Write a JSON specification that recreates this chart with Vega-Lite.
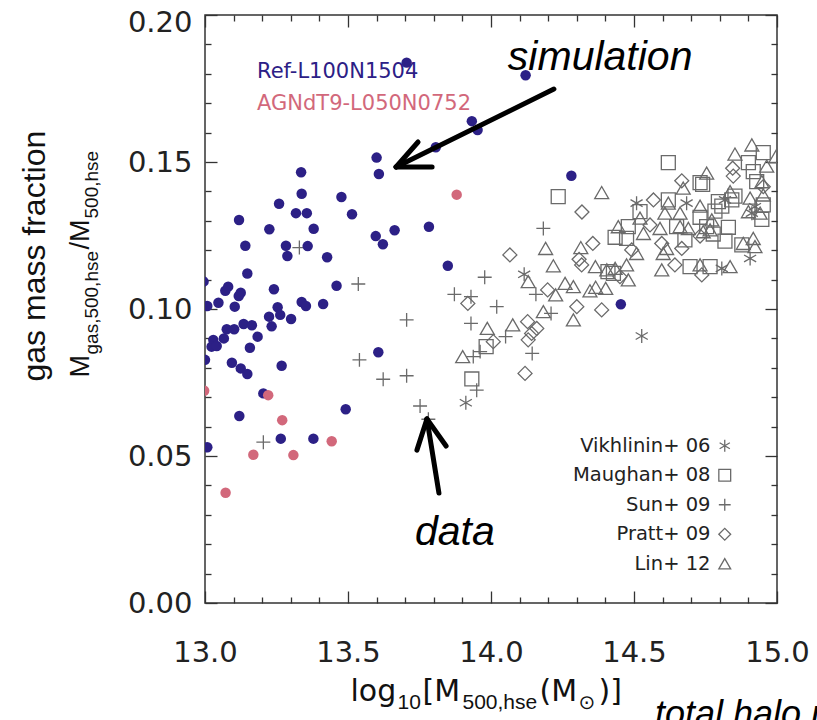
{
  "$schema": "https://vega.github.io/schema/vega-lite/v6.json",
  "width": 572,
  "height": 588,
  "autosize": {"type": "none"},
  "padding": {"left": 205, "top": 15, "right": 40, "bottom": 117},
  "background": "white",
  "config": {
    "view": {"stroke": "#333333", "strokeWidth": 1.5},
    "axis": {
      "domain": false, "grid": false,
      "labelFont": "DejaVu Sans", "labelFontSize": 29, "labelColor": "#222222",
      "tickColor": "#333333", "tickWidth": 1.3,
      "titleColor": "#111111", "titleFontWeight": "normal",
      "titleAlign": "left", "titleBaseline": "alphabetic",
      "labelFlush": false, "labelOverlap": false, "titleLimit": 1000
    }
  },
  "datasets": {
    "sim": [
      {"m":13.705,"f":0.1838,"sim":"Ref-L100N1504"},{"m":13.600,"f":0.1515,"sim":"Ref-L100N1504"},{"m":13.608,"f":0.1459,"sim":"Ref-L100N1504"},
      {"m":13.336,"f":0.1465,"sim":"Ref-L100N1504"},{"m":13.338,"f":0.1392,"sim":"Ref-L100N1504"},{"m":13.477,"f":0.1381,"sim":"Ref-L100N1504"},
      {"m":13.259,"f":0.1358,"sim":"Ref-L100N1504"},{"m":13.318,"f":0.1326,"sim":"Ref-L100N1504"},{"m":13.356,"f":0.1326,"sim":"Ref-L100N1504"},
      {"m":13.514,"f":0.1322,"sim":"Ref-L100N1504"},{"m":13.119,"f":0.1303,"sim":"Ref-L100N1504"},{"m":13.225,"f":0.1271,"sim":"Ref-L100N1504"},
      {"m":13.380,"f":0.1273,"sim":"Ref-L100N1504"},{"m":13.597,"f":0.1248,"sim":"Ref-L100N1504"},{"m":13.663,"f":0.1268,"sim":"Ref-L100N1504"},
      {"m":13.622,"f":0.1220,"sim":"Ref-L100N1504"},{"m":13.141,"f":0.1215,"sim":"Ref-L100N1504"},{"m":13.283,"f":0.1215,"sim":"Ref-L100N1504"},
      {"m":13.359,"f":0.1214,"sim":"Ref-L100N1504"},{"m":13.288,"f":0.1180,"sim":"Ref-L100N1504"},{"m":13.427,"f":0.1176,"sim":"Ref-L100N1504"},
      {"m":13.148,"f":0.1121,"sim":"Ref-L100N1504"},{"m":12.995,"f":0.1093,"sim":"Ref-L100N1504"},{"m":13.081,"f":0.1076,"sim":"Ref-L100N1504"},
      {"m":13.071,"f":0.1062,"sim":"Ref-L100N1504"},{"m":13.125,"f":0.1055,"sim":"Ref-L100N1504"},{"m":13.118,"f":0.1044,"sim":"Ref-L100N1504"},
      {"m":13.241,"f":0.1067,"sim":"Ref-L100N1504"},{"m":13.460,"f":0.1079,"sim":"Ref-L100N1504"},{"m":13.008,"f":0.1010,"sim":"Ref-L100N1504"},
      {"m":13.047,"f":0.1021,"sim":"Ref-L100N1504"},{"m":13.104,"f":0.1008,"sim":"Ref-L100N1504"},{"m":13.254,"f":0.1006,"sim":"Ref-L100N1504"},
      {"m":13.338,"f":0.1024,"sim":"Ref-L100N1504"},{"m":13.353,"f":0.1010,"sim":"Ref-L100N1504"},{"m":13.413,"f":0.1017,"sim":"Ref-L100N1504"},
      {"m":13.224,"f":0.0974,"sim":"Ref-L100N1504"},{"m":13.263,"f":0.0980,"sim":"Ref-L100N1504"},{"m":13.301,"f":0.0966,"sim":"Ref-L100N1504"},
      {"m":13.233,"f":0.0941,"sim":"Ref-L100N1504"},{"m":13.135,"f":0.0949,"sim":"Ref-L100N1504"},{"m":13.164,"f":0.0945,"sim":"Ref-L100N1504"},
      {"m":13.076,"f":0.0931,"sim":"Ref-L100N1504"},{"m":13.102,"f":0.0931,"sim":"Ref-L100N1504"},{"m":13.184,"f":0.0906,"sim":"Ref-L100N1504"},
      {"m":13.029,"f":0.0895,"sim":"Ref-L100N1504"},{"m":13.066,"f":0.0900,"sim":"Ref-L100N1504"},{"m":13.023,"f":0.0872,"sim":"Ref-L100N1504"},
      {"m":13.041,"f":0.0874,"sim":"Ref-L100N1504"},{"m":13.157,"f":0.0868,"sim":"Ref-L100N1504"},{"m":13.000,"f":0.0827,"sim":"Ref-L100N1504"},
      {"m":13.094,"f":0.0817,"sim":"Ref-L100N1504"},{"m":13.125,"f":0.0798,"sim":"Ref-L100N1504"},{"m":13.148,"f":0.0779,"sim":"Ref-L100N1504"},
      {"m":13.268,"f":0.0807,"sim":"Ref-L100N1504"},{"m":13.606,"f":0.0853,"sim":"Ref-L100N1504"},{"m":13.204,"f":0.0713,"sim":"Ref-L100N1504"},
      {"m":13.120,"f":0.0636,"sim":"Ref-L100N1504"},{"m":13.492,"f":0.0659,"sim":"Ref-L100N1504"},{"m":13.008,"f":0.0530,"sim":"Ref-L100N1504"},
      {"m":13.265,"f":0.0559,"sim":"Ref-L100N1504"},{"m":13.379,"f":0.0559,"sim":"Ref-L100N1504"},{"m":14.121,"f":0.1795,"sim":"Ref-L100N1504"},
      {"m":13.933,"f":0.1639,"sim":"Ref-L100N1504"},{"m":13.953,"f":0.1609,"sim":"Ref-L100N1504"},{"m":13.807,"f":0.1550,"sim":"Ref-L100N1504"},
      {"m":14.281,"f":0.1453,"sim":"Ref-L100N1504"},{"m":13.783,"f":0.1280,"sim":"Ref-L100N1504"},{"m":13.849,"f":0.1147,"sim":"Ref-L100N1504"},
      {"m":14.454,"f":0.1016,"sim":"Ref-L100N1504"},
      {"m":13.221,"f":0.0707,"sim":"AGNdT9-L050N0752"},{"m":12.997,"f":0.0722,"sim":"AGNdT9-L050N0752"},{"m":13.270,"f":0.0622,"sim":"AGNdT9-L050N0752"},
      {"m":13.443,"f":0.0550,"sim":"AGNdT9-L050N0752"},{"m":13.169,"f":0.0504,"sim":"AGNdT9-L050N0752"},{"m":13.309,"f":0.0503,"sim":"AGNdT9-L050N0752"},
      {"m":13.072,"f":0.0375,"sim":"AGNdT9-L050N0752"},{"m":13.880,"f":0.1389,"sim":"AGNdT9-L050N0752"}
    ],
    "obs": [
      {"m":14.116,"f":0.1118,"s":"Vikhlinin+ 06"},{"m":13.912,"f":0.0681,"s":"Vikhlinin+ 06"},{"m":14.509,"f":0.1360,"s":"Vikhlinin+ 06"},
      {"m":14.684,"f":0.1360,"s":"Vikhlinin+ 06"},{"m":14.818,"f":0.1371,"s":"Vikhlinin+ 06"},{"m":14.923,"f":0.1348,"s":"Vikhlinin+ 06"},
      {"m":14.912,"f":0.1326,"s":"Vikhlinin+ 06"},{"m":14.906,"f":0.1172,"s":"Vikhlinin+ 06"},{"m":14.807,"f":0.1138,"s":"Vikhlinin+ 06"},
      {"m":14.527,"f":0.0908,"s":"Vikhlinin+ 06"},
      {"m":14.235,"f":0.1382,"s":"Maughan+ 08"},{"m":13.983,"f":0.0872,"s":"Maughan+ 08"},{"m":13.933,"f":0.0762,"s":"Maughan+ 08"},
      {"m":14.409,"f":0.1127,"s":"Maughan+ 08"},{"m":14.620,"f":0.1498,"s":"Maughan+ 08"},{"m":14.731,"f":0.1430,"s":"Maughan+ 08"},
      {"m":14.740,"f":0.1424,"s":"Maughan+ 08"},{"m":14.952,"f":0.1532,"s":"Maughan+ 08"},{"m":14.900,"f":0.1498,"s":"Maughan+ 08"},
      {"m":14.917,"f":0.1467,"s":"Maughan+ 08"},{"m":14.929,"f":0.1433,"s":"Maughan+ 08"},{"m":14.853,"f":0.1384,"s":"Maughan+ 08"},
      {"m":14.842,"f":0.1371,"s":"Maughan+ 08"},{"m":14.795,"f":0.1365,"s":"Maughan+ 08"},{"m":14.807,"f":0.1350,"s":"Maughan+ 08"},
      {"m":14.952,"f":0.1354,"s":"Maughan+ 08"},{"m":14.947,"f":0.1305,"s":"Maughan+ 08"},{"m":14.620,"f":0.1371,"s":"Maughan+ 08"},
      {"m":14.783,"f":0.1333,"s":"Maughan+ 08"},{"m":14.521,"f":0.1331,"s":"Maughan+ 08"},{"m":14.731,"f":0.1312,"s":"Maughan+ 08"},
      {"m":14.480,"f":0.1280,"s":"Maughan+ 08"},{"m":14.649,"f":0.1280,"s":"Maughan+ 08"},{"m":14.754,"f":0.1280,"s":"Maughan+ 08"},
      {"m":14.830,"f":0.1278,"s":"Maughan+ 08"},{"m":14.434,"f":0.1244,"s":"Maughan+ 08"},{"m":14.474,"f":0.1240,"s":"Maughan+ 08"},
      {"m":14.777,"f":0.1255,"s":"Maughan+ 08"},{"m":14.678,"f":0.1235,"s":"Maughan+ 08"},{"m":14.818,"f":0.1231,"s":"Maughan+ 08"},
      {"m":14.877,"f":0.1218,"s":"Maughan+ 08"},{"m":14.696,"f":0.1144,"s":"Maughan+ 08"},{"m":14.766,"f":0.1144,"s":"Maughan+ 08"},
      {"m":14.428,"f":0.1121,"s":"Maughan+ 08"},
      {"m":13.330,"f":0.1209,"s":"Sun+ 09"},{"m":13.536,"f":0.1085,"s":"Sun+ 09"},{"m":13.540,"f":0.0827,"s":"Sun+ 09"},
      {"m":13.623,"f":0.0761,"s":"Sun+ 09"},{"m":13.705,"f":0.0963,"s":"Sun+ 09"},{"m":13.705,"f":0.0773,"s":"Sun+ 09"},
      {"m":13.204,"f":0.0547,"s":"Sun+ 09"},{"m":13.752,"f":0.0670,"s":"Sun+ 09"},{"m":13.781,"f":0.0625,"s":"Sun+ 09"},
      {"m":13.950,"f":0.0724,"s":"Sun+ 09"},{"m":14.183,"f":0.1274,"s":"Sun+ 09"},{"m":13.978,"f":0.1108,"s":"Sun+ 09"},
      {"m":14.157,"f":0.1050,"s":"Sun+ 09"},{"m":13.872,"f":0.1050,"s":"Sun+ 09"},{"m":13.930,"f":0.1042,"s":"Sun+ 09"},
      {"m":14.020,"f":0.1008,"s":"Sun+ 09"},{"m":14.210,"f":0.0985,"s":"Sun+ 09"},{"m":13.930,"f":0.0951,"s":"Sun+ 09"},
      {"m":14.051,"f":0.0906,"s":"Sun+ 09"},{"m":13.962,"f":0.0855,"s":"Sun+ 09"},{"m":13.938,"f":0.0838,"s":"Sun+ 09"},
      {"m":14.144,"f":0.0849,"s":"Sun+ 09"},
      {"m":14.318,"f":0.1330,"s":"Pratt+ 09"},{"m":14.356,"f":0.1223,"s":"Pratt+ 09"},{"m":14.066,"f":0.1184,"s":"Pratt+ 09"},
      {"m":14.308,"f":0.1169,"s":"Pratt+ 09"},{"m":14.317,"f":0.1150,"s":"Pratt+ 09"},{"m":14.198,"f":0.1065,"s":"Pratt+ 09"},
      {"m":13.919,"f":0.1019,"s":"Pratt+ 09"},{"m":14.300,"f":0.1008,"s":"Pratt+ 09"},{"m":14.387,"f":0.0997,"s":"Pratt+ 09"},
      {"m":14.128,"f":0.0957,"s":"Pratt+ 09"},{"m":14.160,"f":0.0934,"s":"Pratt+ 09"},{"m":14.142,"f":0.0917,"s":"Pratt+ 09"},
      {"m":14.130,"f":0.0895,"s":"Pratt+ 09"},{"m":14.008,"f":0.0889,"s":"Pratt+ 09"},{"m":14.119,"f":0.0781,"s":"Pratt+ 09"},
      {"m":14.667,"f":0.1436,"s":"Pratt+ 09"},{"m":14.845,"f":0.1479,"s":"Pratt+ 09"},{"m":14.847,"f":0.1452,"s":"Pratt+ 09"},
      {"m":14.952,"f":0.1416,"s":"Pratt+ 09"},{"m":14.568,"f":0.1371,"s":"Pratt+ 09"},{"m":14.556,"f":0.1286,"s":"Pratt+ 09"},
      {"m":14.731,"f":0.1248,"s":"Pratt+ 09"},{"m":14.597,"f":0.1223,"s":"Pratt+ 09"},{"m":14.667,"f":0.1206,"s":"Pratt+ 09"},
      {"m":14.492,"f":0.1201,"s":"Pratt+ 09"},{"m":14.643,"f":0.1150,"s":"Pratt+ 09"},{"m":14.737,"f":0.1116,"s":"Pratt+ 09"},
      {"m":14.451,"f":0.1110,"s":"Pratt+ 09"},
      {"m":14.387,"f":0.1396,"s":"Lin+ 12"},{"m":14.191,"f":0.1206,"s":"Lin+ 12"},{"m":14.314,"f":0.1209,"s":"Lin+ 12"},
      {"m":14.218,"f":0.1147,"s":"Lin+ 12"},{"m":14.365,"f":0.1144,"s":"Lin+ 12"},{"m":14.130,"f":0.1093,"s":"Lin+ 12"},
      {"m":14.259,"f":0.1087,"s":"Lin+ 12"},{"m":14.288,"f":0.1076,"s":"Lin+ 12"},{"m":14.226,"f":0.1048,"s":"Lin+ 12"},
      {"m":14.346,"f":0.1062,"s":"Lin+ 12"},{"m":14.366,"f":0.1074,"s":"Lin+ 12"},{"m":14.401,"f":0.1070,"s":"Lin+ 12"},
      {"m":14.183,"f":0.0991,"s":"Lin+ 12"},{"m":13.987,"f":0.0934,"s":"Lin+ 12"},{"m":14.076,"f":0.0946,"s":"Lin+ 12"},
      {"m":14.288,"f":0.0963,"s":"Lin+ 12"},{"m":13.901,"f":0.0838,"s":"Lin+ 12"},{"m":14.754,"f":0.1462,"s":"Lin+ 12"},
      {"m":14.672,"f":0.1411,"s":"Lin+ 12"},{"m":14.912,"f":0.1558,"s":"Lin+ 12"},{"m":14.853,"f":0.1527,"s":"Lin+ 12"},
      {"m":14.964,"f":0.1486,"s":"Lin+ 12"},{"m":14.996,"f":0.1518,"s":"Lin+ 12"},{"m":14.947,"f":0.1433,"s":"Lin+ 12"},
      {"m":14.952,"f":0.1388,"s":"Lin+ 12"},{"m":14.836,"f":0.1399,"s":"Lin+ 12"},{"m":14.906,"f":0.1377,"s":"Lin+ 12"},
      {"m":14.900,"f":0.1331,"s":"Lin+ 12"},{"m":14.941,"f":0.1326,"s":"Lin+ 12"},{"m":14.620,"f":0.1360,"s":"Lin+ 12"},
      {"m":14.731,"f":0.1350,"s":"Lin+ 12"},{"m":14.608,"f":0.1326,"s":"Lin+ 12"},{"m":14.661,"f":0.1326,"s":"Lin+ 12"},
      {"m":14.521,"f":0.1309,"s":"Lin+ 12"},{"m":14.772,"f":0.1303,"s":"Lin+ 12"},{"m":14.445,"f":0.1280,"s":"Lin+ 12"},
      {"m":14.591,"f":0.1274,"s":"Lin+ 12"},{"m":14.661,"f":0.1280,"s":"Lin+ 12"},{"m":14.690,"f":0.1274,"s":"Lin+ 12"},
      {"m":14.533,"f":0.1257,"s":"Lin+ 12"},{"m":14.742,"f":0.1263,"s":"Lin+ 12"},{"m":14.766,"f":0.1269,"s":"Lin+ 12"},
      {"m":14.614,"f":0.1206,"s":"Lin+ 12"},{"m":14.882,"f":0.1223,"s":"Lin+ 12"},{"m":14.923,"f":0.1212,"s":"Lin+ 12"},
      {"m":14.917,"f":0.1240,"s":"Lin+ 12"},{"m":14.509,"f":0.1189,"s":"Lin+ 12"},{"m":14.602,"f":0.1189,"s":"Lin+ 12"},
      {"m":14.597,"f":0.1133,"s":"Lin+ 12"},{"m":14.731,"f":0.1150,"s":"Lin+ 12"},{"m":14.836,"f":0.1144,"s":"Lin+ 12"},
      {"m":14.474,"f":0.1150,"s":"Lin+ 12"},{"m":14.434,"f":0.1138,"s":"Lin+ 12"},{"m":14.480,"f":0.1099,"s":"Lin+ 12"},
      {"m":14.405,"f":0.1133,"s":"Lin+ 12"}
    ],
    "shafts": [
      {"x":14.220,"y":0.1748,"x2":13.668,"y2":0.1483},
      {"x":13.818,"y":0.0374,"x2":13.776,"y2":0.0626}
    ],
    "barbs": [
      {"x":13.668,"y":0.1483,"x2":13.745,"y2":0.1568},
      {"x":13.668,"y":0.1483,"x2":13.794,"y2":0.1483},
      {"x":13.776,"y":0.0626,"x2":13.741,"y2":0.0520},
      {"x":13.776,"y":0.0626,"x2":13.843,"y2":0.0534}
    ]
  },
  "layer": [
    {
      "data": {"name": "obs"},
      "mark": {"type": "point", "filled": false, "color": "#6a6a6a", "strokeWidth": 1.3, "size": 195, "opacity": 1, "clip": true},
      "encoding": {
        "x": {"field": "m", "type": "quantitative", "scale": {"domain": [13, 15], "nice": false, "zero": false},
          "axis": {"orient": "bottom", "values": [13.1,13.2,13.3,13.4,13.6,13.7,13.8,13.9,14.1,14.2,14.3,14.4,14.6,14.7,14.8,14.9], "tickSize": -6, "labels": false,
            "title": "10", "titleX": 192, "titleY": 105, "titleFont": "Liberation Sans", "titleFontSize": 21, "titleAngle": 0}},
        "y": {"field": "f", "type": "quantitative", "scale": {"domain": [0, 0.2], "nice": false, "zero": false},
          "axis": {"orient": "left", "values": [0.01,0.02,0.03,0.04,0.06,0.07,0.08,0.09,0.11,0.12,0.13,0.14,0.16,0.17,0.18,0.19], "tickSize": -6, "labels": false,
            "title": "M", "titleX": -117, "titleY": 362, "titleFont": "Liberation Sans", "titleFontSize": 27, "titleAngle": 270}},
        "shape": {"field": "s", "type": "nominal",
          "scale": {"domain": ["Vikhlinin+ 06", "Maughan+ 08", "Sun+ 09", "Pratt+ 09", "Lin+ 12"],
            "range": ["M0,-1L0,1M-0.866,-0.5L0.866,0.5M-0.866,0.5L0.866,-0.5", "square", "M-1,0L1,0M0,-1L0,1", "diamond", "triangle-up"]},
          "legend": {"orient": "none", "legendX": 510, "legendY": 421, "title": null, "padding": 0,
            "labelAlign": "right", "labelOffset": -24, "labelFont": "DejaVu Sans", "labelFontSize": 19.5, "labelColor": "#222222", "labelLimit": 400,
            "symbolSize": 140, "symbolStrokeColor": "#6a6a6a", "symbolStrokeWidth": 1.3, "rowPadding": 8.5}}
      }
    },
    {
      "data": {"name": "sim"},
      "mark": {"type": "circle", "size": 110, "opacity": 1, "clip": true},
      "encoding": {
        "x": {"field": "m", "type": "quantitative", "scale": {"domain": [13, 15], "nice": false, "zero": false},
          "axis": {"orient": "bottom", "values": [13, 13.5, 14, 14.5, 15], "format": ".1f", "tickSize": -12, "labelPadding": 47,
            "title": "log", "titleX": 145, "titleY": 97, "titleFont": "DejaVu Sans", "titleFontSize": 30, "titleAngle": 0}},
        "y": {"field": "f", "type": "quantitative", "scale": {"domain": [0, 0.2], "nice": false, "zero": false},
          "axis": {"orient": "left", "values": [0, 0.05, 0.1, 0.15, 0.2], "format": ".2f", "tickSize": -12, "labelPadding": 25,
            "labelOffset": {"condition": {"test": "datum.value > 0.19", "value": 7}, "value": 0},
            "title": "gas mass fraction", "titleX": -161, "titleY": 366, "titleFont": "Liberation Sans", "titleFontSize": 32, "titleAngle": 270}},
        "color": {"field": "sim", "type": "nominal",
          "scale": {"domain": ["Ref-L100N1504", "AGNdT9-L050N0752"], "range": ["#2c2086", "#d2687b"]},
          "legend": {"orient": "none", "legendX": 31, "legendY": 46, "title": null, "padding": 0,
            "symbolSize": 0, "symbolOpacity": 0, "labelOffset": 0, "labelFont": "DejaVu Sans", "labelFontSize": 21, "labelLimit": 400,
            "labelColor": {"expr": "datum.label == 'Ref-L100N1504' ? '#2c2086' : '#d2687b'"}, "rowPadding": 10}}
      }
    },
    {
      "data": {"name": "shafts"},
      "mark": {"type": "rule", "color": "black", "strokeWidth": 5, "strokeCap": "round"},
      "encoding": {
        "x": {"field": "x", "type": "quantitative", "scale": {"domain": [13, 15], "nice": false, "zero": false},
          "axis": {"orient": "top", "values": [13, 13.5, 14, 14.5, 15], "tickSize": -12, "labels": false,
            "title": "[M", "titleX": 217, "titleY": 685, "titleFont": "DejaVu Sans", "titleFontSize": 30, "titleAngle": 0}},
        "x2": {"field": "x2"},
        "y": {"field": "y", "type": "quantitative", "scale": {"domain": [0, 0.2], "nice": false, "zero": false},
          "axis": {"orient": "right", "values": [0, 0.05, 0.1, 0.15, 0.2], "tickSize": -12, "labels": false,
            "title": "gas,500,hse", "titleX": -680, "titleY": 339, "titleFont": "Liberation Sans", "titleFontSize": 19, "titleAngle": 270}},
        "y2": {"field": "y2"}
      }
    },
    {
      "data": {"name": "barbs"},
      "mark": {"type": "rule", "color": "black", "strokeWidth": 5, "strokeCap": "round"},
      "encoding": {
        "x": {"field": "x", "type": "quantitative", "scale": {"domain": [13, 15], "nice": false, "zero": false},
          "axis": {"orient": "top", "values": [13.1,13.2,13.3,13.4,13.6,13.7,13.8,13.9,14.1,14.2,14.3,14.4,14.6,14.7,14.8,14.9], "tickSize": -6, "labels": false,
            "title": "500,hse", "titleX": 257, "titleY": 693, "titleFont": "Liberation Sans", "titleFontSize": 21, "titleAngle": 0}},
        "x2": {"field": "x2"},
        "y": {"field": "y", "type": "quantitative", "scale": {"domain": [0, 0.2], "nice": false, "zero": false},
          "axis": {"orient": "right", "values": [0.01,0.02,0.03,0.04,0.06,0.07,0.08,0.09,0.11,0.12,0.13,0.14,0.16,0.17,0.18,0.19], "tickSize": -6, "labels": false,
            "title": "/M", "titleX": -689, "titleY": 234, "titleFont": "Liberation Sans", "titleFontSize": 27, "titleAngle": 270}},
        "y2": {"field": "y2"}
      }
    },
    {
      "data": {"values": [{"label": "simulation", "x": 14.059, "y": 0.1813}]},
      "mark": {"type": "text", "font": "Liberation Sans", "fontStyle": "italic", "fontSize": 41, "color": "black", "align": "left", "baseline": "alphabetic"},
      "encoding": {
        "text": {"field": "label"},
        "x": {"field": "x", "type": "quantitative", "scale": {"domain": [13, 15], "nice": false, "zero": false},
          "axis": {"orient": "bottom", "ticks": false, "labels": false,
            "title": "(M", "titleX": 334, "titleY": 97, "titleFont": "DejaVu Sans", "titleFontSize": 30, "titleAngle": 0}},
        "y": {"field": "y", "type": "quantitative", "scale": {"domain": [0, 0.2], "nice": false, "zero": false},
          "axis": {"orient": "left", "ticks": false, "labels": false,
            "title": "500,hse", "titleX": -108, "titleY": 203, "titleFont": "Liberation Sans", "titleFontSize": 19, "titleAngle": 270}}
      }
    },
    {
      "data": {"values": [{"label": "data", "x": 13.734, "y": 0.0197}]},
      "mark": {"type": "text", "font": "Liberation Sans", "fontStyle": "italic", "fontSize": 41, "color": "black", "align": "left", "baseline": "alphabetic"},
      "encoding": {
        "text": {"field": "label"},
        "x": {"field": "x", "type": "quantitative", "scale": {"domain": [13, 15], "nice": false, "zero": false},
          "axis": {"orient": "bottom", "ticks": false, "labels": false,
            "title": "⊙", "titleX": 373, "titleY": 105, "titleFont": "DejaVu Sans", "titleFontSize": 20, "titleAngle": 0}},
        "y": {"field": "y", "type": "quantitative", "scale": {"domain": [0, 0.2], "nice": false, "zero": false}, "axis": null}
      }
    },
    {
      "data": {"values": [{"label": "total halo mass", "x": 14.573, "y": -0.0418}]},
      "mark": {"type": "text", "font": "Liberation Sans", "fontStyle": "italic", "fontSize": 36, "color": "black", "align": "left", "baseline": "alphabetic"},
      "encoding": {
        "text": {"field": "label"},
        "x": {"field": "x", "type": "quantitative", "scale": {"domain": [13, 15], "nice": false, "zero": false},
          "axis": {"orient": "bottom", "ticks": false, "labels": false,
            "title": ")]", "titleX": 393, "titleY": 97, "titleFont": "DejaVu Sans", "titleFontSize": 30, "titleAngle": 0}},
        "y": {"field": "y", "type": "quantitative", "scale": {"domain": [0, 0.2], "nice": false, "zero": false}, "axis": null}
      }
    }
  ],
  "resolve": {"axis": {"x": "independent", "y": "independent"}}
}
